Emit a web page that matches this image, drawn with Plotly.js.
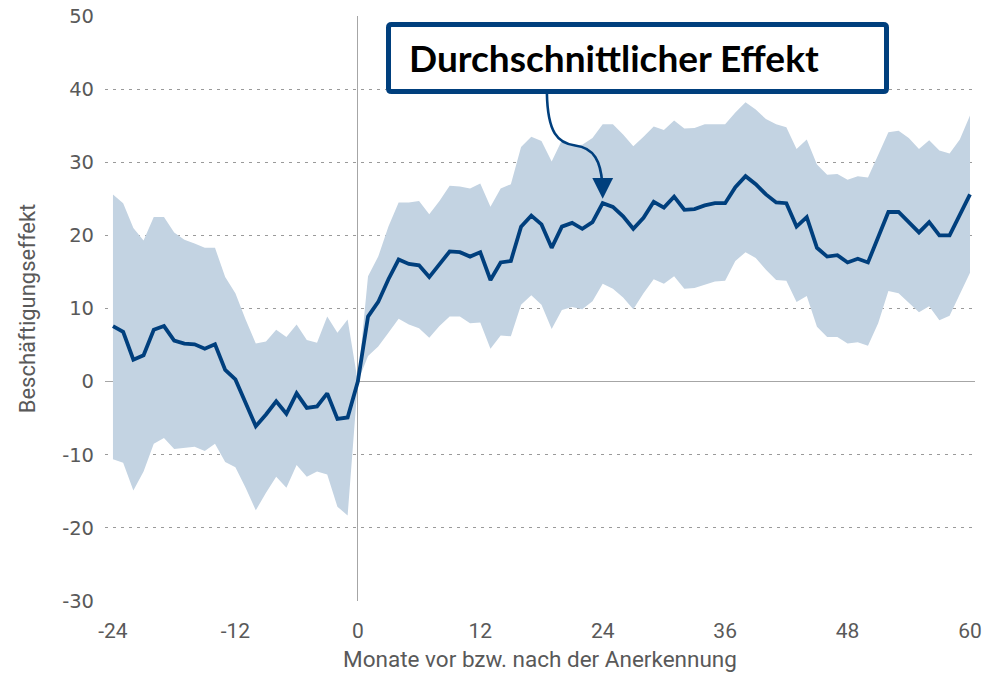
<!DOCTYPE html>
<html>
<head>
<meta charset="utf-8">
<script src="https://cdn.plot.ly/plotly-3.0.1.min.js"></script>
<style>html,body{margin:0;padding:0;background:#fff;}#chart{width:990px;height:673px;}</style>
</head>
<body>
<div id="chart"></div>
<script>
const months = [-24,-23,-22,-21,-20,-19,-18,-17,-16,-15,-14,-13,-12,-11,-10,-9,-8,-7,-6,-5,-4,-3,-2,-1,
  0,1,2,3,4,5,6,7,8,9,10,11,12,13,14,15,16,17,18,19,20,21,22,23,24,25,26,27,28,29,30,
  31,32,33,34,35,36,37,38,39,40,41,42,43,44,45,46,47,48,49,50,51,52,53,54,55,56,57,58,59,60];

const effect = [7.6,6.8,3.0,3.6,7.1,7.6,5.6,5.2,5.1,4.5,5.1,1.6,0.3,-2.9,-6.1,-4.5,-2.7,-4.4,-1.6,-3.6,-3.4,-1.6,-5.1,-4.9,
  0,8.9,10.9,14.0,16.7,16.1,15.9,14.3,16.0,17.8,17.7,17.1,17.7,13.9,16.3,16.5,21.2,22.7,21.5,18.3,21.2,21.7,20.9,21.8,24.4,23.9,22.6,20.9,22.4,24.6,23.8,
  25.3,23.5,23.6,24.1,24.4,24.4,26.6,28.1,27.0,25.6,24.5,24.4,21.2,22.5,18.3,17.1,17.3,16.3,16.8,16.3,19.6,23.2,23.2,21.8,20.4,21.8,20.0,20.0,22.7,25.6];

const upper = [25.6,24.4,21.0,19.3,22.5,22.5,20.4,19.4,18.9,18.3,18.3,14.3,12.1,8.5,5.2,5.5,7.1,6.1,7.8,5.7,5.3,8.9,6.7,8.5,
  0,14.4,17.1,21.2,24.5,24.5,24.7,22.9,24.7,26.8,26.7,26.4,27.1,23.9,26.4,27.0,32.1,33.5,32.9,30.1,33.0,32.3,32.4,33.3,35.2,35.2,33.8,32.2,33.5,34.9,34.4,
  35.7,34.6,34.7,35.2,35.2,35.2,36.8,38.2,37.2,35.9,35.2,34.8,31.8,33.1,29.7,28.3,28.4,27.6,28.1,27.9,31.0,34.1,34.3,33.3,31.8,33.0,31.6,31.2,33.1,36.4];

const lower = [-10.6,-11.1,-14.9,-12.3,-8.5,-7.7,-9.2,-9.1,-8.9,-9.5,-8.5,-11.0,-11.7,-14.5,-17.6,-15.2,-13.0,-14.5,-11.4,-13.0,-12.3,-12.7,-17.1,-18.3,
  0,3.5,4.8,6.7,8.6,7.8,7.3,6.0,7.6,8.9,8.9,8.0,8.1,4.5,6.3,6.2,10.5,11.8,10.5,7.2,9.8,10.2,9.9,11.0,13.4,12.7,11.5,9.9,12.1,14.0,13.4,
  14.4,12.7,12.8,13.2,13.7,13.8,16.5,17.7,16.9,15.3,13.9,13.8,10.9,11.7,7.5,6.1,6.1,5.2,5.4,4.9,8.0,12.4,12.1,10.8,9.5,10.3,8.4,9.0,12.0,14.9];

const xTicks = [-24,-12,0,12,24,36,48,60];
const yTicks = [-30,-20,-10,0,10,20,30,40,50];

const dark = '#003f7d';
const band = '#c3d3e2';
const grey = '#595959';
const txtFont = 'Roboto, sans-serif';

// plot-area geometry (pixels) used to place the callout box
const W = 990, H = 673, ML = 105, MR = 15, MT = 16, MB = 72;
const PW = W - ML - MR, PH = H - MT - MB;
const px = v => (v - ML) / PW;
const py = v => 1 - (v - MT) / PH;
const bx0 = px(388.5), bx1 = px(886.5), by0 = py(91.5), by1 = py(24.5);
const rx = 3 / PW, ry = 3 / PH;
const boxPath = `M ${bx0+rx},${by1} L ${bx1-rx},${by1} Q ${bx1},${by1} ${bx1},${by1-ry} L ${bx1},${by0+ry} Q ${bx1},${by0} ${bx1-rx},${by0} L ${bx0+rx},${by0} Q ${bx0},${by0} ${bx0},${by0+ry} L ${bx0},${by1-ry} Q ${bx0},${by1} ${bx0+rx},${by1} Z`;

const traces = [
  {x: months, y: upper, type: 'scatter', mode: 'lines', line: {width: 0, color: band}, hoverinfo: 'skip', showlegend: false},
  {x: months, y: lower, type: 'scatter', mode: 'lines', line: {width: 0, color: band}, fill: 'tonexty', fillcolor: band, hoverinfo: 'skip', showlegend: false},
  {x: months, y: effect, type: 'scatter', mode: 'lines', line: {width: 3.8, color: dark}, showlegend: false}
];

const layout = {
  width: W, height: H,
  margin: {l: ML, r: MR, t: MT, b: MB},
  paper_bgcolor: '#fff', plot_bgcolor: '#fff',
  font: {family: txtFont, color: grey},
  xaxis: {
    range: [-24.78, 60.49], tickvals: xTicks, ticktext: xTicks.map(String),
    showgrid: false, zeroline: true, zerolinecolor: '#a6a6a6', zerolinewidth: 1.3,
    showline: false, ticks: '', ticklabelstandoff: 15,
    tickfont: {family: txtFont, size: 21, color: grey},
    title: {text: 'Monate vor bzw. nach der Anerkennung', font: {family: txtFont, size: 22.5, color: grey}, standoff: 9}
  },
  yaxis: {
    range: [-30, 50], tickvals: yTicks, ticktext: yTicks.map(String),
    showgrid: true, gridcolor: '#9a9a9a', griddash: '3px,5px', gridwidth: 1,
    zeroline: true, zerolinecolor: '#a6a6a6', zerolinewidth: 1.3,
    showline: false, ticks: '', ticklabelstandoff: 10,
    tickfont: {family: 'DejaVu Sans, sans-serif', size: 19.5, color: grey},
    title: {text: 'Beschäftigungseffekt', font: {family: txtFont, size: 22, color: grey}, standoff: 20}
  },
  shapes: [
    {type: 'path', xref: 'x', yref: 'y',
     path: 'M 18.53,39.5 C 18.6,34 19.6,32.6 21.3,32.3 C 23.2,32 23.8,30 23.95,27.2',
     line: {color: dark, width: 2.6}},
    {type: 'path', xref: 'paper', yref: 'paper', path: boxPath,
     line: {color: dark, width: 5}, fillcolor: '#fff'}
  ],
  annotations: [
    {x: 24.0, y: 25.0, xref: 'x', yref: 'y', text: '', showarrow: true,
     ax: 0, ay: -14, arrowhead: 2, arrowsize: 1.6, arrowwidth: 2.6, arrowcolor: dark},
    {xref: 'paper', yref: 'paper', x: px(407), y: py(58), xanchor: 'left', yanchor: 'middle',
     text: '<b>Durchschnittlicher Effekt</b>', showarrow: false, align: 'left',
     font: {family: 'Lato, sans-serif', size: 37, color: '#000'}}
  ]
};

Plotly.newPlot('chart', traces, layout, {displayModeBar: false, staticPlot: true});
</script>
</body>
</html>
